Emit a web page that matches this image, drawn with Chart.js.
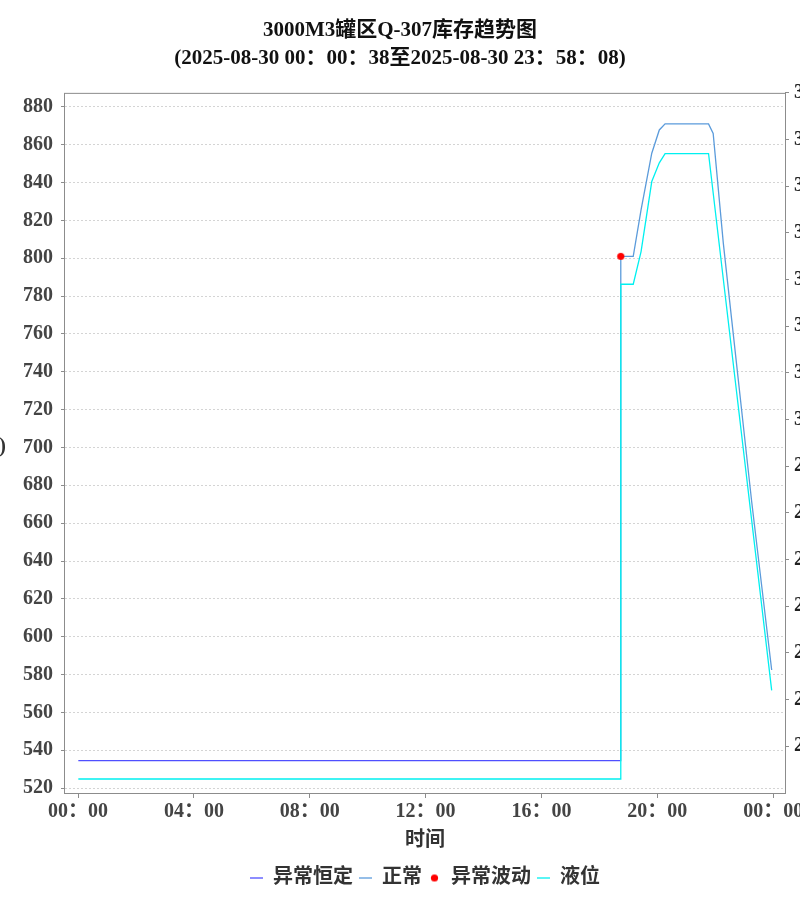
<!DOCTYPE html>
<html>
<head>
<meta charset="utf-8">
<title>3000M3罐区Q-307库存趋势图</title>
<script src="https://cdn.jsdelivr.net/npm/chart.js@4.4.1/dist/chart.umd.min.js"></script>
<style>
  html, body { margin: 0; padding: 0; background: #fff; overflow: hidden; }
</style>
</head>
<body>
<canvas id="trendChart" width="800" height="900"></canvas>
<script>
// axis ticks
const xTickHours = [0, 4, 8, 12, 16, 20, 24];
const yTicks = [520, 540, 560, 580, 600, 620, 640, 660, 680, 700, 720, 740, 760, 780, 800, 820, 840, 860, 880];
const y2Ticks = [2.3, 2.4, 2.5, 2.6, 2.7, 2.8, 2.9, 3.0, 3.1, 3.2, 3.3, 3.4, 3.5, 3.6, 3.7];

// 异常恒定 (hours since 00:00, m3)
const constHours = [0.01, 18.73];
const constValues = [534.5, 534.5];

// 正常
const normalHours = [18.73, 18.74, 19.17, 19.44, 19.81, 20.07, 20.27, 21.77, 21.93, 22.28, 22.57, 23.26, 23.95];
const normalValues = [534.5, 801, 801, 825.6, 855.5, 867.8, 871, 871, 866, 808, 767.4, 671.3, 582.4];

// 异常波动
const spikeHours = [18.74];
const spikeValues = [801];

// 液位 (m, right axis)
const levelHours = [0.01, 18.73, 18.74, 19.17, 19.44, 19.81, 20.07, 20.27, 21.77, 23.95];
const levelValues = [2.23, 2.23, 3.29, 3.29, 3.36, 3.51, 3.55, 3.57, 3.57, 2.42];

const FONT = '"Liberation Serif", "Noto Sans CJK SC", serif';

function toPoints(xs, ys) {
  return xs.map((x, i) => ({ x: x, y: ys[i] }));
}

function hourLabel(h) {
  const hh = String(Math.round(h) % 24).padStart(2, "0");
  return hh + "：00";
}

// small red dot used both on the chart and in the legend
const dot = document.createElement("canvas");
dot.width = 9;
dot.height = 9;
const dctx = dot.getContext("2d");
dctx.fillStyle = "#ff0000";
dctx.beginPath();
dctx.arc(4.5, 4.5, 3.6, 0, Math.PI * 2);
dctx.fill();

const framePlugin = {
  id: "frame",
  beforeDraw(chart) {
    const ctx = chart.ctx;
    ctx.save();
    ctx.fillStyle = "#fff";
    ctx.fillRect(0, 0, chart.width, chart.height);
    ctx.restore();
  },
  afterDraw(chart) {
    const { ctx, chartArea } = chart;
    ctx.save();
    ctx.strokeStyle = "#8c8c8c";
    ctx.lineWidth = 1;
    ctx.strokeRect(chartArea.left - 0.5, chartArea.top + 0.5,
      chartArea.right - chartArea.left + 1, chartArea.bottom - chartArea.top);
    // y axis title, horizontal, mostly outside the page
    ctx.font = "bold 20px " + FONT;
    ctx.fillStyle = "#333";
    ctx.textAlign = "right";
    ctx.textBaseline = "middle";
    ctx.fillText("库存(m³)", 6, (chartArea.top + chartArea.bottom) / 2 + 4);
    ctx.restore();
  }
};

const config = {
  type: "line",
  data: {
    datasets: [
      {
        label: "异常恒定",
        data: toPoints(constHours, constValues),
        borderColor: "#4f4fff",
        backgroundColor: "#4f4fff",
        borderWidth: 1.3,
        pointRadius: 0,
        pointStyle: "line",
        yAxisID: "y",
        order: 3
      },
      {
        label: "正常",
        data: toPoints(normalHours, normalValues),
        borderColor: "#5b9bdb",
        backgroundColor: "#5b9bdb",
        borderWidth: 1.3,
        pointRadius: 0,
        pointStyle: "line",
        yAxisID: "y",
        order: 2
      },
      {
        label: "异常波动",
        data: toPoints(spikeHours, spikeValues),
        borderColor: "#ff0000",
        backgroundColor: "#ff0000",
        showLine: false,
        pointStyle: dot,
        pointRadius: 4,
        yAxisID: "y",
        order: 0
      },
      {
        label: "液位",
        data: toPoints(levelHours, levelValues),
        borderColor: "#00f0f0",
        backgroundColor: "#00f0f0",
        borderWidth: 1.3,
        pointRadius: 0,
        pointStyle: "line",
        yAxisID: "y2",
        order: 1
      }
    ]
  },
  options: {
    responsive: false,
    animation: false,
    layout: { padding: { left: 0, right: 0, top: 0, bottom: 2 } },
    plugins: {
      tooltip: { enabled: false },
      title: {
        display: true,
        text: ["3000M3罐区Q-307库存趋势图", "(2025-08-30 00：00：38至2025-08-30 23：58：08)"],
        color: "#111",
        font: { family: FONT, size: 21, weight: "bold", lineHeight: 1.33 },
        padding: { top: 17, bottom: 20 }
      },
      legend: {
        position: "bottom",
        fullSize: false,
        labels: {
          usePointStyle: true,
          pointStyleWidth: 13,
          boxHeight: 8,
          padding: 6,
          color: "#333",
          font: { family: FONT, size: 20, weight: "bold" },
          sort: (a, b) => a.datasetIndex - b.datasetIndex
        }
      }
    },
    scales: {
      x: {
        type: "linear",
        min: -0.45,
        max: 24.41,
        afterBuildTicks: scale => { scale.ticks = xTickHours.map(v => ({ value: v })); },
        afterFit: scale => { scale.height = 69; scale.paddingLeft = 0; scale.paddingRight = 0; },
        grid: { drawOnChartArea: false, drawTicks: true, tickLength: 5, color: "#8c8c8c" },
        border: { display: false },
        ticks: {
          callback: v => hourLabel(v),
          maxRotation: 0,
          autoSkip: false,
          padding: 2,
          color: "#444",
          font: { family: FONT, size: 20, weight: "bold" }
        },
        title: {
          display: true,
          text: "时间",
          color: "#333",
          font: { family: FONT, size: 20, weight: "bold" },
          padding: { top: 0, bottom: 9 }
        }
      },
      y: {
        position: "left",
        min: 517.4,
        max: 887.4,
        afterBuildTicks: scale => { scale.ticks = yTicks.map(v => ({ value: v })); },
        afterFit: scale => { scale.width = 65; scale.paddingTop = 0; scale.paddingBottom = 0; },
        grid: { color: "#d4d4d4", tickColor: "#8c8c8c", tickLength: 4, lineWidth: 1 },
        border: { display: false, dash: [2, 2] },
        ticks: {
          padding: 8,
          color: "#444",
          font: { family: FONT, size: 20, weight: "bold" }
        }
      },
      y2: {
        position: "right",
        min: 2.2,
        max: 3.7,
        afterBuildTicks: scale => { scale.ticks = y2Ticks.map(v => ({ value: v })); },
        afterFit: scale => { scale.width = 15; scale.paddingTop = 0; scale.paddingBottom = 0; },
        grid: { drawOnChartArea: false, tickColor: "#8c8c8c", tickLength: 4 },
        border: { display: false },
        ticks: {
          padding: 5,
          color: "#222",
          callback: v => v.toFixed(1),
          font: { family: FONT, size: 20, weight: "bold" }
        }
      }
    }
  },
  plugins: [framePlugin]
};

const trendChart = new Chart(document.getElementById("trendChart"), config);
</script>
</body>
</html>
